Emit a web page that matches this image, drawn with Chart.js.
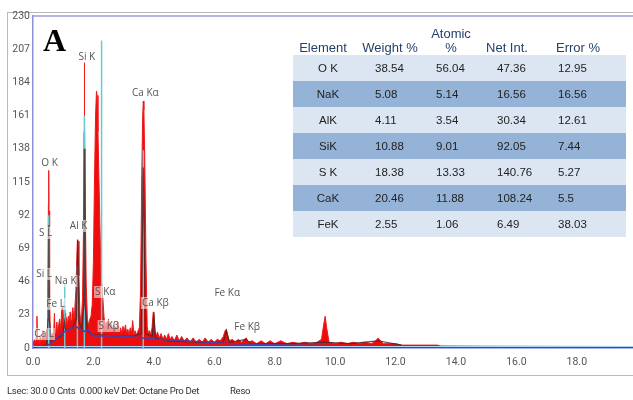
<!DOCTYPE html>
<html>
<head>
<meta charset="utf-8">
<script src="https://cdn.jsdelivr.net/npm/chart.js@4.4.1/dist/chart.umd.min.js"></script>
<style>
html,body{margin:0;padding:0;background:#fff;}
#wrap{position:relative;width:633px;height:400px;overflow:hidden;background:#fff;}
#frame{position:absolute;left:7px;top:12px;width:660px;height:364px;border:1px solid #b9b9b9;box-sizing:border-box;}
#chart{position:absolute;left:0;top:0;}
.hd{position:absolute;bottom:345px;width:120px;text-align:center;white-space:pre-line;line-height:14px;
  font-family:"Liberation Sans",Arial,sans-serif;font-size:13px;color:#243f6b;}
.band{position:absolute;left:293px;width:333px;height:26px;}
.cell{position:absolute;height:26px;line-height:26px;font-family:"Liberation Sans",Arial,sans-serif;font-size:11.5px;color:#222;white-space:nowrap;}
#letterA{position:absolute;left:43px;top:24px;font-family:"Liberation Serif","Times New Roman",serif;font-weight:bold;font-size:32px;line-height:32px;color:#000;}
.foot{position:absolute;top:384px;font-family:Roboto,"Open Sans",sans-serif;font-size:9.6px;line-height:14px;color:#333;letter-spacing:-0.3px;white-space:pre;}
</style>
</head>
<body>
<div id="wrap">
  <div id="frame"></div>
  <canvas id="chart" width="633" height="400"></canvas>
  <div id="letterA">A</div>
  <div id="table"></div>
  <div class="foot" id="foot1" style="left:7px;"></div>
  <div class="foot" id="foot2" style="left:230px;"></div>
</div>
<script>
// ---- spectrum (keV / counts) ----
const energyKeV = [
  0.00,0.02,0.05,0.08,0.11,0.13,0.15,0.18,0.21,0.24,
  0.27,0.30,0.33,0.35,0.38,0.41,0.44,0.47,0.49,0.51,
  0.52,0.53,0.55,0.57,0.60,0.63,0.66,0.69,0.71,0.73,
  0.76,0.79,0.82,0.85,0.88,0.91,0.94,0.96,0.98,1.01,
  1.04,1.06,1.08,1.11,1.14,1.17,1.20,1.23,1.26,1.29,
  1.32,1.35,1.38,1.42,1.45,1.47,1.49,1.52,1.55,1.58,
  1.61,1.64,1.67,1.69,1.70,1.71,1.73,1.76,1.80,1.84,
  1.88,1.92,1.96,2.00,2.03,2.07,2.10,2.12,2.15,2.19,
  2.23,2.27,2.31,2.35,2.38,2.42,2.46,2.50,2.54,2.58,
  2.62,2.66,2.70,2.74,2.78,2.82,2.86,2.90,2.94,2.98,
  3.02,3.06,3.10,3.14,3.18,3.22,3.26,3.30,3.34,3.38,
  3.42,3.46,3.52,3.56,3.60,3.63,3.65,3.67,3.70,3.74,
  3.78,3.82,3.86,3.90,3.94,3.98,4.00,4.04,4.08,4.12,
  4.18,4.24,4.30,4.36,4.42,4.48,4.54,4.60,4.68,4.76,
  4.84,4.92,5.00,5.10,5.20,5.30,5.40,5.50,5.60,5.70,
  5.80,5.90,6.00,6.10,6.20,6.30,6.36,6.40,6.44,6.50,
  6.60,6.70,6.80,6.90,7.00,7.06,7.12,7.25,7.40,7.55,
  7.70,7.85,8.00,8.20,8.40,8.60,8.80,9.00,9.20,9.40,
  9.55,9.62,9.67,9.72,9.80,10.00,10.20,10.40,10.60,10.80,
  11.00,11.20,11.35,11.42,11.50,11.60,11.80,12.00,12.20,12.50,
  13.00,13.40,13.50,14.00,16.00,18.00,19.86
];
const counts = [
  0,4,6,3,8,22,4,6,3,9,
  4,7,12,5,8,4,10,14,40,100,
  123,95,35,12,6,10,8,14,24,10,
  12,18,11,16,20,13,22,28,16,19,
  32,24,17,21,16,22,18,25,19,23,
  28,20,26,40,62,75,74,50,25,18,
  22,35,80,150,198,160,100,45,20,16,
  20,22,30,60,110,160,178,175,150,110,
  70,45,35,22,15,18,14,20,13,17,
  12,16,11,15,12,18,11,14,10,15,
  11,16,10,13,9,14,10,19,9,12,
  9,11,14,40,120,160,171,165,130,60,
  15,10,12,9,14,25,24,12,8,11,
  7,10,6,9,6,10,6,8,5,9,
  5,8,5,7,4,7,4,6,4,7,
  4,6,4,6,5,8,12,13,9,5,
  6,4,6,4,6,7,4,5,3,5,
  3,5,3,5,3,4,3,4,3,4,
  6,16,22,14,4,3,4,3,4,3,
  4,3,5,7,5,3,3,3,2,2,
  2,2,1,1,1,1,1
];
// dark overlay trace
const overlayKeV = [0.00,0.30,0.45,0.50,0.52,0.54,0.60,0.90,1.00,1.04,1.08,1.30,1.44,1.48,1.52,1.62,1.68,1.70,1.72,1.80,1.95,2.30,2.80,3.30,3.58,3.65,3.72,3.95,4.00,4.05,4.50,5.50,6.30,6.40,6.50,7.06,7.20,8.50,9.67,10.50,11.42,12.20];
const overlayCounts = [0,1,2,20,85,20,4,8,10,18,12,14,20,75,18,13,30,138,30,12,9,9,8,8,10,125,10,8,24,7,5,4,4,12,4,6,3,3,4,3,5,2];
// fitted background
const bgKeV = [0.10,0.33,0.50,0.70,0.90,1.10,1.30,1.45,1.55,1.72,1.82,2.00,2.50,3.00,3.40,4.00,5.10,6.60,8.30,10.00,12.00,15.00,19.86];
const bgCounts = [0,0.5,2,5,9,12,14,14.5,13,11.4,12.8,8.4,8.5,8,7.5,6.3,4.9,3,2,1.6,1.3,1,0.8];
// element marker lines
const markerKeV = [0.52,1.05,1.47,1.70,2.27,3.65];
const markerCounts = [92,45,57,161,213,137];
// peak labels
const peakLabels = ['O K','S L','Si L','Na K','Al K','Fe L','Ca L','Si K','Ca K\u03b1','S K\u03b1','S K\u03b2','Ca K\u03b2','Fe K\u03b1','Fe K\u03b2'];
const peakLabelKeV = [0.55,0.42,0.37,1.08,1.51,0.75,0.37,1.78,3.72,2.39,2.51,4.05,6.43,7.09];
const peakLabelCounts = [128,79.7,51.3,46.4,84.5,30.5,9.7,201.7,176.7,38.8,15.2,31.2,38.1,14.6];
// axis ticks
const xTickValues = [0,2,4,6,8,10,12,14,16,18];
const yTickValues = [0,23,46,69,92,115,138,161,184,207,230];
// quantification table
const tableHeader = ['Element','Weight %','Atomic\n%','Net Int.','Error %'];
const tableElements = ['O K','NaK','AlK','SiK','S K','CaK','FeK'];
const weightPct = ['38.54','5.08','4.11','10.88','18.38','20.46','2.55'];
const atomicPct = ['56.04','5.14','3.54','9.01','13.33','11.88','1.06'];
const netInt = ['47.36','16.56','30.34','92.05','140.76','108.24','6.49'];
const errorPct = ['12.95','16.56','12.61','7.44','5.27','5.5','38.03'];
const footerLeft = 'Lsec: 30.0 0 Cnts  0.000 keV Det: Octane Pro Det';
const footerRight = 'Reso';

// ---- table (HTML text) ----
(function(){
  const t = document.getElementById('table');
  const hdCenters = [323,390,451,507,578];
  tableHeader.forEach((h,i)=>{
    const d=document.createElement('div'); d.className='hd';
    d.style.left=(hdCenters[i]-60)+'px'; d.textContent=h; t.appendChild(d);
  });
  const colLeft=[375,436,497,558];
  tableElements.forEach((el,r)=>{
    const top=55+26*r;
    const b=document.createElement('div'); b.className='band';
    b.style.top=top+'px'; b.style.background = (r%2===0)?'#dce6f2':'#95b3d7';
    t.appendChild(b);
    const c0=document.createElement('div'); c0.className='cell';
    c0.style.left='293px'; c0.style.width='70px'; c0.style.textAlign='center'; c0.style.top=top+'px';
    c0.textContent=el; t.appendChild(c0);
    [weightPct,atomicPct,netInt,errorPct].forEach((arr,j)=>{
      const c=document.createElement('div'); c.className='cell';
      c.style.left=colLeft[j]+'px'; c.style.top=top+'px'; c.textContent=arr[r]; t.appendChild(c);
    });
  });
  document.getElementById('foot1').textContent=footerLeft;
  document.getElementById('foot2').textContent=footerRight;
})();

// ---- chart ----
const toPts=(xs,ys)=>xs.map((v,i)=>({x:v,y:ys[i]}));
const markerPts=[];
markerKeV.forEach((e,i)=>{ markerPts.push({x:e,y:0},{x:e,y:markerCounts[i]},{x:e,y:null}); });

const decor = {
  id:'decor',
  afterDatasetsDraw(chart){
    const {ctx, chartArea:a, scales:{x,y}} = chart;
    ctx.save();
    ctx.strokeStyle='#a8d8f0'; ctx.lineWidth=1;
    ctx.beginPath(); ctx.moveTo(a.left,a.bottom-1.5); ctx.lineTo(a.right,a.bottom-1.5); ctx.stroke();
    ctx.font='10px "Open Sans", sans-serif';
    ctx.textAlign='center'; ctx.textBaseline='middle';
    peakLabels.forEach((t,i)=>{
      const px=x.getPixelForValue(peakLabelKeV[i]);
      const py=y.getPixelForValue(peakLabelCounts[i]);
      const w=ctx.measureText(t).width;
      ctx.fillStyle='rgba(255,255,255,0.55)';
      ctx.fillRect(px-w/2-1,py-6,w+2,12);
      ctx.fillStyle='#555';
      ctx.fillText(t,px,py);
    });
    ctx.restore();
  },
  afterDraw(chart){
    const {ctx, chartArea:a} = chart;
    ctx.save();
    ctx.strokeStyle='#9d9ddd'; ctx.lineWidth=1.5;
    ctx.beginPath(); ctx.moveTo(a.left,a.top); ctx.lineTo(a.right,a.top); ctx.stroke();
    ctx.restore();
  }
};

new Chart(document.getElementById('chart'), {
  type:'line',
  data:{datasets:[
    {label:'background', data:toPts(bgKeV,bgCounts), borderColor:'#4e3fa6', borderWidth:1.5, pointRadius:0, fill:false, order:0},
    {label:'overlay', data:toPts(overlayKeV,overlayCounts), borderColor:'rgba(70,40,40,0.85)', borderWidth:1.2, pointRadius:0, fill:false, order:1},
    {label:'markers', data:markerPts, borderColor:'#6cc8d0', borderWidth:1.5, pointRadius:0, fill:false, spanGaps:false, order:2},
    {label:'spectrum', data:toPts(energyKeV,counts), borderColor:'#f01818', backgroundColor:'#ee0c0c', borderWidth:1, pointRadius:0, fill:'origin', order:3}
  ]},
  options:{
    responsive:false, animation:false, devicePixelRatio:1,
    layout:{padding:{left:0,top:16,right:0,bottom:25}},
    plugins:{legend:{display:false}, tooltip:{enabled:false}},
    elements:{line:{tension:0}},
    scales:{
      x:{type:'linear', min:0, max:19.86,
        grid:{display:false, drawTicks:false},
        border:{display:true, color:'#5a64d6', width:1.5},
        afterBuildTicks:(s)=>{ s.ticks = xTickValues.map(v=>({value:v})); },
        afterFit:(s)=>{ s.height=27; },
        ticks:{autoSkip:false, maxRotation:0, padding:8, color:'#555', font:{family:'Roboto, "Open Sans", sans-serif', size:10.5},
          callback:(v)=>Number(v).toFixed(1)}
      },
      y:{type:'linear', min:0, max:230,
        grid:{display:false, drawTicks:false},
        border:{display:true, color:'#8f8fd8', width:1.5},
        afterBuildTicks:(s)=>{ s.ticks = yTickValues.map(v=>({value:v})); },
        afterFit:(s)=>{ s.width=33; },
        ticks:{autoSkip:false, padding:3, color:'#555', font:{family:'Roboto, "Open Sans", sans-serif', size:10.5}}
      }
    }
  },
  plugins:[decor]
});
</script>
</body>
</html>
